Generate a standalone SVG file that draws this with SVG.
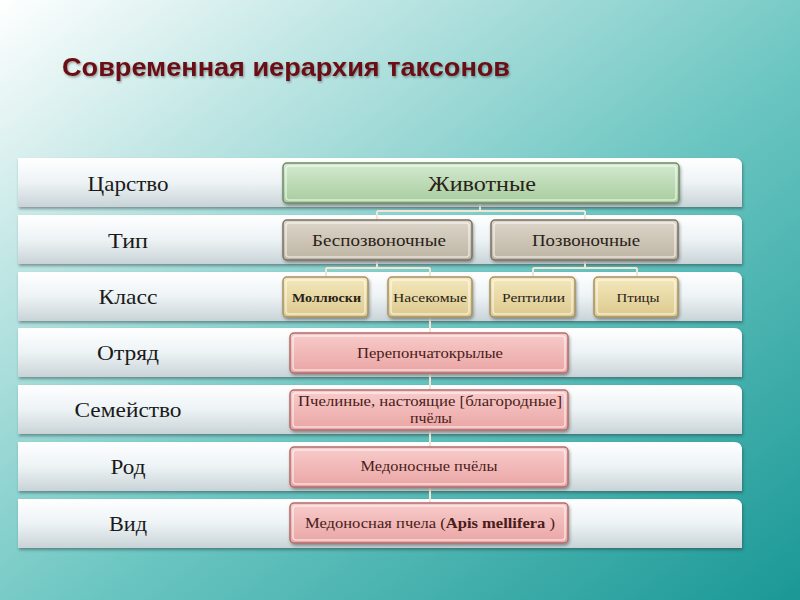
<svg xmlns="http://www.w3.org/2000/svg" width="800" height="600" viewBox="0 0 800 600">
<defs>
<linearGradient id="bg" x1="0" y1="0" x2="1" y2="1">
<stop offset="0" stop-color="#ffffff"/>
<stop offset="0.22" stop-color="#c2e7e5"/>
<stop offset="0.55" stop-color="#6cc6c2"/>
<stop offset="1" stop-color="#1a9896"/>
</linearGradient>
<linearGradient id="band" x1="0" y1="0" x2="0" y2="1">
<stop offset="0" stop-color="#ffffff"/>
<stop offset="0.5" stop-color="#edf3f5"/>
<stop offset="1" stop-color="#c9d3d7"/>
</linearGradient>
<linearGradient id="green" x1="0" y1="0" x2="0" y2="1">
<stop offset="0" stop-color="#d4ead0"/>
<stop offset="1" stop-color="#a7cc9e"/>
</linearGradient>
<linearGradient id="gray" x1="0" y1="0" x2="0" y2="1">
<stop offset="0" stop-color="#ddd7ca"/>
<stop offset="1" stop-color="#bdb4a3"/>
</linearGradient>
<linearGradient id="yellow" x1="0" y1="0" x2="0" y2="1">
<stop offset="0" stop-color="#f4e8bc"/>
<stop offset="1" stop-color="#dcc98e"/>
</linearGradient>
<linearGradient id="pink" x1="0" y1="0" x2="0" y2="1">
<stop offset="0" stop-color="#f8cccb"/>
<stop offset="1" stop-color="#e9a5a4"/>
</linearGradient>
<filter id="sh" x="-10%" y="-20%" width="120%" height="150%">
<feDropShadow dx="1" dy="2" stdDeviation="1.5" flood-color="#203030" flood-opacity="0.45"/>
</filter>
<filter id="tsh" x="-5%" y="-20%" width="110%" height="150%">
<feDropShadow dx="1" dy="1.5" stdDeviation="0.8" flood-color="#000" flood-opacity="0.35"/>
</filter>
</defs>
<style>
.band{fill:url(#band);filter:url(#sh)}
.lbl{font-family:"Liberation Serif","DejaVu Serif",serif;font-size:21px;fill:#1a1a1a;text-anchor:middle}
.node{stroke-width:1.5;filter:url(#sh)}
.g{fill:url(#green);stroke:#6f8c66}
.t{fill:url(#gray);stroke:#7b7262}
.y{fill:url(#yellow);stroke:#a89260}
.p{fill:url(#pink);stroke:#b46e6c}
.hl{fill:none;stroke:#ffffff;stroke-opacity:0.6;stroke-width:1.5}
.nt{font-family:"Liberation Serif","DejaVu Serif",serif;text-anchor:middle;fill:#2a2218}
.pt{font-family:"Liberation Serif","DejaVu Serif",serif;text-anchor:middle;fill:#4a1c1a;font-size:14px}
.con{stroke:#efe6d8;stroke-width:2;fill:none}
</style>
<rect width="800" height="600" fill="url(#bg)"/>
<text x="62" y="76" font-family="'Liberation Sans','Arial',sans-serif" font-weight="bold" font-size="25" fill="#6b1012" textLength="448" lengthAdjust="spacingAndGlyphs" filter="url(#tsh)">Современная иерархия таксонов</text>

<g id="bands">
<path class="band" d="M18 158 H734 Q742 158 742 166 V207 H18 Z"/>
<path class="band" d="M18 215 H734 Q742 215 742 223 V264 H18 Z"/>
<path class="band" d="M18 272 H734 Q742 272 742 280 V321 H18 Z"/>
<path class="band" d="M18 328 H734 Q742 328 742 336 V377 H18 Z"/>
<path class="band" d="M18 385 H734 Q742 385 742 393 V434 H18 Z"/>
<path class="band" d="M18 442 H734 Q742 442 742 450 V491 H18 Z"/>
<path class="band" d="M18 499 H734 Q742 499 742 507 V548 H18 Z"/>
</g>
<g id="labels">
<text class="lbl" x="128" y="191" textLength="81" lengthAdjust="spacingAndGlyphs">Царство</text>
<text class="lbl" x="128" y="248" textLength="40" lengthAdjust="spacingAndGlyphs">Тип</text>
<text class="lbl" x="128" y="304" textLength="59" lengthAdjust="spacingAndGlyphs">Класс</text>
<text class="lbl" x="128" y="360" textLength="62" lengthAdjust="spacingAndGlyphs">Отряд</text>
<text class="lbl" x="128" y="417" textLength="107" lengthAdjust="spacingAndGlyphs">Семейство</text>
<text class="lbl" x="128" y="474" textLength="35" lengthAdjust="spacingAndGlyphs">Род</text>
<text class="lbl" x="128" y="531" textLength="38" lengthAdjust="spacingAndGlyphs">Вид</text>
</g>

<g id="connectors">
<path class="con" d="M480 203 V211 M377 211 H585 M377 211 V220 M585 211 V220"/>
<path class="con" d="M377 260 V268 M326 268 H430 M326 268 V277 M430 268 V277"/>
<path class="con" d="M585 260 V268 M533 268 H637 M533 268 V277 M637 268 V277"/>
<path class="con" d="M430 317 V333 M430 373 V390 M430 430 V447 M430 487 V503"/>
</g>

<g id="n-animals">
<rect class="node g" x="283" y="163" width="396" height="40" rx="4"/>
<rect class="hl" x="286" y="166" width="390" height="34" rx="3"/>
<text class="nt" x="482" y="191" font-size="21" textLength="108" lengthAdjust="spacingAndGlyphs">Животные</text>
</g>
<g id="n-invert">
<rect class="node t" x="283" y="220" width="189" height="40" rx="4"/>
<rect class="hl" x="286" y="223" width="183" height="34" rx="3"/>
<text class="nt" x="379" y="246" font-size="16" textLength="134" lengthAdjust="spacingAndGlyphs">Беспозвоночные</text>
</g>
<g id="n-vert">
<rect class="node t" x="491" y="220" width="187" height="40" rx="4"/>
<rect class="hl" x="494" y="223" width="181" height="34" rx="3"/>
<text class="nt" x="586" y="246" font-size="16" textLength="108" lengthAdjust="spacingAndGlyphs">Позвоночные</text>
</g>
<g id="n-moll">
<rect class="node y" x="283" y="277" width="85" height="40" rx="4"/>
<rect class="hl" x="286" y="280" width="79" height="34" rx="3"/>
<text class="nt" x="326.5" y="302" font-size="13" font-weight="bold" textLength="69" lengthAdjust="spacingAndGlyphs">Моллюски</text>
</g>
<g id="n-insect">
<rect class="node y" x="388" y="277" width="84" height="40" rx="4"/>
<rect class="hl" x="391" y="280" width="78" height="34" rx="3"/>
<text class="nt" x="430" y="302" font-size="13" textLength="74" lengthAdjust="spacingAndGlyphs">Насекомые</text>
</g>
<g id="n-rept">
<rect class="node y" x="490" y="277" width="85" height="40" rx="4"/>
<rect class="hl" x="493" y="280" width="79" height="34" rx="3"/>
<text class="nt" x="533.5" y="302" font-size="13" textLength="63" lengthAdjust="spacingAndGlyphs">Рептилии</text>
</g>
<g id="n-birds">
<rect class="node y" x="594" y="277" width="84" height="40" rx="4"/>
<rect class="hl" x="597" y="280" width="78" height="34" rx="3"/>
<text class="nt" x="638" y="302" font-size="13" textLength="43" lengthAdjust="spacingAndGlyphs">Птицы</text>
</g>
<g id="n-order">
<rect class="node p" x="290" y="333" width="278" height="40" rx="4"/>
<rect class="hl" x="293" y="336" width="272" height="34" rx="3"/>
<text class="pt" x="430" y="358" textLength="146" lengthAdjust="spacingAndGlyphs">Перепончатокрылые</text>
</g>
<g id="n-family">
<rect class="node p" x="290" y="390" width="278" height="40" rx="4"/>
<rect class="hl" x="293" y="393" width="272" height="34" rx="3"/>
<text class="pt" x="430" y="406" textLength="264" lengthAdjust="spacingAndGlyphs">Пчелиные, настоящие [благородные]</text>
<text class="pt" x="431" y="423" textLength="42" lengthAdjust="spacingAndGlyphs">пчёлы</text>
</g>
<g id="n-genus">
<rect class="node p" x="290" y="447" width="278" height="40" rx="4"/>
<rect class="hl" x="293" y="450" width="272" height="34" rx="3"/>
<text class="pt" x="429" y="471" textLength="137" lengthAdjust="spacingAndGlyphs">Медоносные пчёлы</text>
</g>
<g id="n-species">
<rect class="node p" x="290" y="503" width="278" height="40" rx="4"/>
<rect class="hl" x="293" y="506" width="272" height="34" rx="3"/>
<text class="pt" x="430" y="528" textLength="250" lengthAdjust="spacingAndGlyphs">Медоносная пчела (<tspan font-weight="bold">Apis mellifera</tspan> )</text>
</g>
</svg>
